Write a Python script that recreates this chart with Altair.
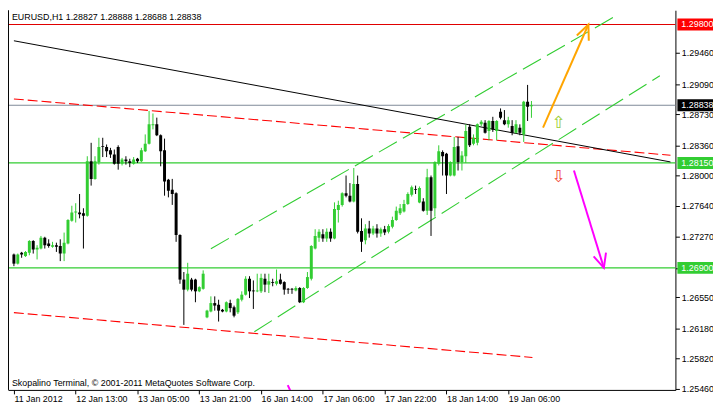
import json
import altair as alt
import pandas as pd

# ---------------- data ----------------
opens = [1.2706,1.2695,1.2708,1.2704,1.2708,1.2722,1.2712,1.2713,1.2726,1.2719,
         1.2715,1.2717,1.2716,1.2707,1.2719,1.2746,1.2756,1.2756,1.2755,1.2752,
         1.2817,1.2796,1.2816,1.2835,1.2834,1.2830,1.2825,1.2834,1.2814,1.2819,
         1.2817,1.2814,1.2820,1.2817,1.2829,1.2838,1.2860,1.2861,1.2848,1.2830,
         1.2795,1.2783,1.2779,1.2729,1.2676,1.2664,1.2676,1.2676,1.2662,1.2665,
         1.2631,1.2638,1.2648,1.2646,1.2640,1.2638,1.2648,1.2643,1.2637,1.2652,
         1.2658,1.2677,1.2663,1.2662,1.2662,1.2677,1.2670,1.2673,1.2671,1.2676,
         1.2673,1.2665,1.2665,1.2663,1.2666,1.2649,1.2666,1.2677,1.2713,1.2726,
         1.2730,1.2725,1.2733,1.2725,1.2759,1.2765,1.2779,1.2776,1.2769,1.2790,
         1.2734,1.2723,1.2737,1.2731,1.2737,1.2731,1.2736,1.2733,1.2739,1.2747,
         1.2755,1.2757,1.2766,1.2777,1.2784,1.2768,1.2769,1.2758,1.2798,1.2761,
         1.2814,1.2828,1.2826,1.2800,1.2800,1.2835,1.2816,1.2823,1.2858,1.2838,
         1.2839,1.2861,1.2863,1.2853,1.2865,1.2853,1.2876,1.2866,1.2861,1.2859,
         1.2851,1.2857,1.2849,1.2888,1.28827]
highs = [1.2707,1.2707,1.2709,1.2710,1.2723,1.2723,1.2717,1.2728,1.2727,1.2724,
         1.2721,1.2720,1.2724,1.2732,1.2748,1.2764,1.2767,1.2778,1.2761,1.2823,
         1.2839,1.2823,1.2845,1.2845,1.2837,1.2833,1.2831,1.2836,1.2821,1.2823,
         1.2820,1.2822,1.2821,1.2833,1.2849,1.2877,1.2874,1.2869,1.2849,1.2844,
         1.2796,1.2796,1.2780,1.2730,1.2685,1.2696,1.2678,1.2677,1.2668,1.2687,
         1.2640,1.2656,1.2656,1.2652,1.2641,1.2650,1.2652,1.2645,1.2654,1.2662,
         1.2680,1.2680,1.2675,1.2683,1.2683,1.2683,1.2683,1.2677,1.2688,1.2683,
         1.2674,1.2666,1.2666,1.2668,1.2667,1.2667,1.2685,1.2717,1.2736,1.2736,
         1.2736,1.2737,1.2737,1.2768,1.2770,1.2780,1.2800,1.2791,1.2809,1.2800,
         1.2749,1.2742,1.2746,1.2740,1.2742,1.2738,1.2740,1.2742,1.2751,1.2763,
         1.2766,1.2771,1.2780,1.2788,1.2788,1.2787,1.2773,1.2808,1.2800,1.2817,
         1.2836,1.2830,1.2827,1.2817,1.2846,1.2846,1.2829,1.2861,1.2861,1.2849,
         1.2862,1.2866,1.2866,1.2866,1.2870,1.2866,1.2880,1.2878,1.2870,1.2866,
         1.2866,1.2861,1.2889,1.2908,1.28888]
lows = [1.2692,1.2694,1.2702,1.2703,1.2705,1.2707,1.2700,1.2712,1.2713,1.2714,
        1.2714,1.2709,1.2698,1.2698,1.2718,1.2745,1.2744,1.2749,1.2713,1.2751,
        1.2788,1.2795,1.2813,1.2822,1.2822,1.2821,1.2813,1.2807,1.2812,1.2813,
        1.2810,1.2813,1.2815,1.2816,1.2828,1.2837,1.2855,1.2847,1.2811,1.2776,
        1.2774,1.2765,1.2721,1.2671,1.2622,1.2662,1.2662,1.2649,1.2661,1.2664,
        1.2630,1.2637,1.2639,1.2626,1.2637,1.2637,1.2637,1.2631,1.2635,1.2650,
        1.2657,1.2654,1.2641,1.2661,1.2660,1.2661,1.2660,1.2668,1.2669,1.2670,
        1.2658,1.2659,1.2659,1.2662,1.2648,1.2648,1.2665,1.2675,1.2712,1.2721,
        1.2721,1.2721,1.2721,1.2724,1.2744,1.2763,1.2774,1.2768,1.2768,1.2731,
        1.2709,1.2718,1.2726,1.2729,1.2726,1.2727,1.2729,1.2731,1.2737,1.2746,
        1.2753,1.2756,1.2765,1.2775,1.2778,1.2767,1.2757,1.2753,1.2728,1.2751,
        1.2812,1.2800,1.2778,1.2799,1.2799,1.2806,1.2806,1.2815,1.2834,1.2836,
        1.2836,1.2859,1.2850,1.2842,1.2852,1.2842,1.2867,1.2860,1.2857,1.2848,
        1.2850,1.2848,1.2840,1.2865,1.28688]
closes = [1.2695,1.2706,1.2706,1.2709,1.2722,1.2712,1.2714,1.2726,1.2717,1.2716,
          1.2717,1.2715,1.2707,1.2720,1.2747,1.2756,1.2757,1.2754,1.2752,1.2817,
          1.2796,1.2817,1.2834,1.2834,1.2829,1.2825,1.2814,1.2814,1.2819,1.2817,
          1.2815,1.2819,1.2817,1.2830,1.2838,1.2861,1.2861,1.2848,1.2829,1.2793,
          1.2782,1.2778,1.2729,1.2676,1.2664,1.2683,1.2664,1.2662,1.2667,1.2683,
          1.2639,1.2648,1.2645,1.2639,1.2638,1.2649,1.2642,1.2633,1.2653,1.2658,
          1.2677,1.2662,1.2662,1.2663,1.2678,1.2670,1.2674,1.2672,1.2674,1.2671,
          1.2664,1.2664,1.2664,1.2666,1.2649,1.2666,1.2679,1.2716,1.2728,1.2733,
          1.2725,1.2733,1.2725,1.2760,1.2765,1.2779,1.2776,1.2769,1.2790,1.2733,
          1.2721,1.2737,1.2731,1.2737,1.2731,1.2736,1.2732,1.2740,1.2747,1.2758,
          1.2761,1.2766,1.2778,1.2786,1.2783,1.2785,1.2758,1.2798,1.2758,1.2816,
          1.2829,1.2823,1.2800,1.2816,1.2834,1.2816,1.2824,1.2853,1.2836,1.2845,
          1.2861,1.2864,1.2851,1.2865,1.2855,1.2865,1.2869,1.2861,1.2866,1.2851,
          1.2861,1.2851,1.2888,1.2882,1.28838]

x_tick_index = [0, 16, 32, 48, 64, 80, 96, 112, 128]
x_tick_labels = ["11 Jan 2012", "12 Jan 13:00", "13 Jan 05:00", "13 Jan 21:00",
                 "16 Jan 14:00", "17 Jan 06:00", "17 Jan 22:00", "18 Jan 14:00",
                 "19 Jan 06:00"]
y_tick_values = [1.2546, 1.2582, 1.2618, 1.2655, 1.2690, 1.2727, 1.2764,
                 1.2800, 1.2836, 1.2873, 1.2909, 1.2946]

hline_prices = [1.29800, 1.28838, 1.28150, 1.26900]
hline_colors = ["#E00000", "#7F8A99", "#32CD32", "#32CD32"]
box_colors = ["#FF0000", "#000000", "#32CD32", "#32CD32"]

# trend objects: (bar index, price)
black_line_i = [0, 170]
black_line_p = [1.29606, 1.28162]
red_upper_i = [0, 170]
red_upper_p = [1.28913, 1.28242]
red_lower_i = [0, 134.25]
red_lower_p = [1.26366, 1.25832]
green_upper_i = [51, 156.25]
green_upper_p = [1.27128, 1.29913]
green_lower_i = [62.25, 167.25]
green_lower_p = [1.26139, 1.29189]
orange_i = [137, 148.75]
orange_p = [1.28572, 1.29800]
orange_head_i = [145.75, 148.75, 148.85]
orange_head_p = [1.29669, 1.29800, 1.29606]
magenta_i = [145, 152.75]
magenta_p = [1.28060, 1.26900]
magenta_head_i = [150.1, 152.75, 153.3]
magenta_head_p = [1.27036, 1.26900, 1.27080]
magenta_small_i = [70.9, 71.6]
magenta_small_p = [1.25502, 1.25433]
up_sym_i, up_sym_p = [141], [1.28629]
dn_sym_i, dn_sym_p = [141], [1.27980]

title_text = "EURUSD,H1  1.28827 1.28888 1.28688 1.28838"
copyright_text = "Skopalino Terminal, \u00a9 2001-2011 MetaQuotes Software Corp."

# ---------------- chart ----------------
W, H = 675, 384
FONT = "Liberation Sans"
GREEN = "#32CD32"

xscale = alt.Scale(domain=[-0.25, 170], nice=False, zero=False)
yscale = alt.Scale(domain=[1.25445, 1.29970], nice=False, zero=False)

label_expr = f"{json.dumps(x_tick_labels)}[indexof({json.dumps(x_tick_index)}, datum.value)]"
xaxis = alt.Axis(orient="bottom", values=x_tick_index, labelExpr=label_expr,
                 labelAlign="left", labelPadding=1, tickSize=4, labelFlush=False,
                 labelOverlap=False, grid=False, domainColor="black", tickColor="black",
                 labelColor="black", labelFont=FONT, labelFontSize=9, labelBaseline="top")
yaxis = alt.Axis(orient="right", values=y_tick_values, format=".5f", tickSize=4,
                 grid=False, domainColor="black", tickColor="black", labelColor="black",
                 labelFont=FONT, labelFontSize=9, labelPadding=2, labelOverlap=False,
                 labelFlush=False)


def X(f):
    return alt.X(f"{f}:Q", scale=xscale, axis=xaxis, title=None)


def Y(f):
    return alt.Y(f"{f}:Q", scale=yscale, axis=yaxis, title=None)


n = len(opens)
candles = pd.DataFrame({
    "i": list(range(n)), "open": opens, "high": highs, "low": lows, "close": closes,
})
candles["col"] = [GREEN if c > o else "#000000" for o, c in zip(opens, closes)]

wicks = alt.Chart(candles).mark_rule(strokeWidth=1, clip=True).encode(
    x=X("i"), y=Y("low"), y2="high", color=alt.Color("col:N", scale=None))
bodies = alt.Chart(candles).mark_bar(size=3, clip=True).encode(
    x=X("i"), y=Y("open"), y2="close", color=alt.Color("col:N", scale=None))


def seg(ii, pp, color, width=1.0, dash=None):
    df = pd.DataFrame({"i": ii, "p": pp, "o": list(range(len(ii)))})
    kw = dict(color=color, strokeWidth=width, clip=True)
    if dash:
        kw["strokeDash"] = dash
    return alt.Chart(df).mark_line(**kw).encode(x=X("i"), y=Y("p"), order="o:Q")


hl = pd.DataFrame({"p": hline_prices, "c": hline_colors, "b": box_colors,
                   "t": [f"{v:.5f}" for v in hline_prices]})
hlines = alt.Chart(hl).mark_rule(strokeWidth=1.2).encode(
    y=Y("p"), x=alt.value(0), x2=alt.value(W), color=alt.Color("c:N", scale=None))
boxes = alt.Chart(hl).mark_tick(size=40, thickness=12, orient="horizontal", opacity=1).encode(
    y=Y("p"), x=alt.value(W + 22), color=alt.Color("b:N", scale=None))
box_text = alt.Chart(hl).mark_text(align="left", baseline="middle", font=FONT, fontSize=9,
                                   color="white").encode(
    y=Y("p"), x=alt.value(W + 6), text="t:N")

frame_left = alt.Chart(pd.DataFrame({"a": [0]})).mark_rule(color="black", strokeWidth=1).encode(
    x=alt.value(0.5), y=alt.value(0), y2=alt.value(H))

sym_up = alt.Chart(pd.DataFrame({"i": up_sym_i, "p": up_sym_p, "t": ["\u21e7"]})).mark_text(
    font="DejaVu Sans", fontSize=17, color="#9ACD32").encode(x=X("i"), y=Y("p"), text="t:N")
sym_dn = alt.Chart(pd.DataFrame({"i": dn_sym_i, "p": dn_sym_p, "t": ["\u21e9"]})).mark_text(
    font="DejaVu Sans", fontSize=17, color="#F04030").encode(x=X("i"), y=Y("p"), text="t:N")

title = alt.Chart(pd.DataFrame({"t": [title_text]})).mark_text(
    align="left", baseline="middle", font=FONT, fontSize=9, color="black").encode(
    x=alt.value(4), y=alt.value(7), text="t:N")
copyright = alt.Chart(pd.DataFrame({"t": [copyright_text]})).mark_text(
    align="left", baseline="alphabetic", font=FONT, fontSize=9, color="black").encode(
    x=alt.value(4), y=alt.value(380), text="t:N")

chart = alt.layer(
    hlines,
    seg(red_upper_i, red_upper_p, "#FF0000", 1.1, [10, 4]),
    seg(red_lower_i, red_lower_p, "#FF0000", 1.1, [10, 4]),
    seg(green_upper_i, green_upper_p, GREEN, 1.1, [21, 7]),
    seg(green_lower_i, green_lower_p, GREEN, 1.1, [21, 7]),
    seg(black_line_i, black_line_p, "#000000", 1.0),
    wicks, bodies,
    seg(orange_i, orange_p, "#FFA500", 2),
    seg(orange_head_i, orange_head_p, "#FFA500", 2),
    seg(magenta_i, magenta_p, "#FF00FF", 2),
    seg(magenta_head_i, magenta_head_p, "#FF00FF", 2),
    seg(magenta_small_i, magenta_small_p, "#FF00FF", 2),
    sym_up, sym_dn,
    frame_left, boxes, box_text, title, copyright,
).properties(
    width=W, height=H,
    autosize=alt.AutoSizeParams(type="none"),
    padding={"left": 0, "top": 0, "right": 38, "bottom": 14},
    background="white",
).configure_view(stroke=None)

chart.save("out.html", embed_options={"renderer": "svg", "actions": False})
